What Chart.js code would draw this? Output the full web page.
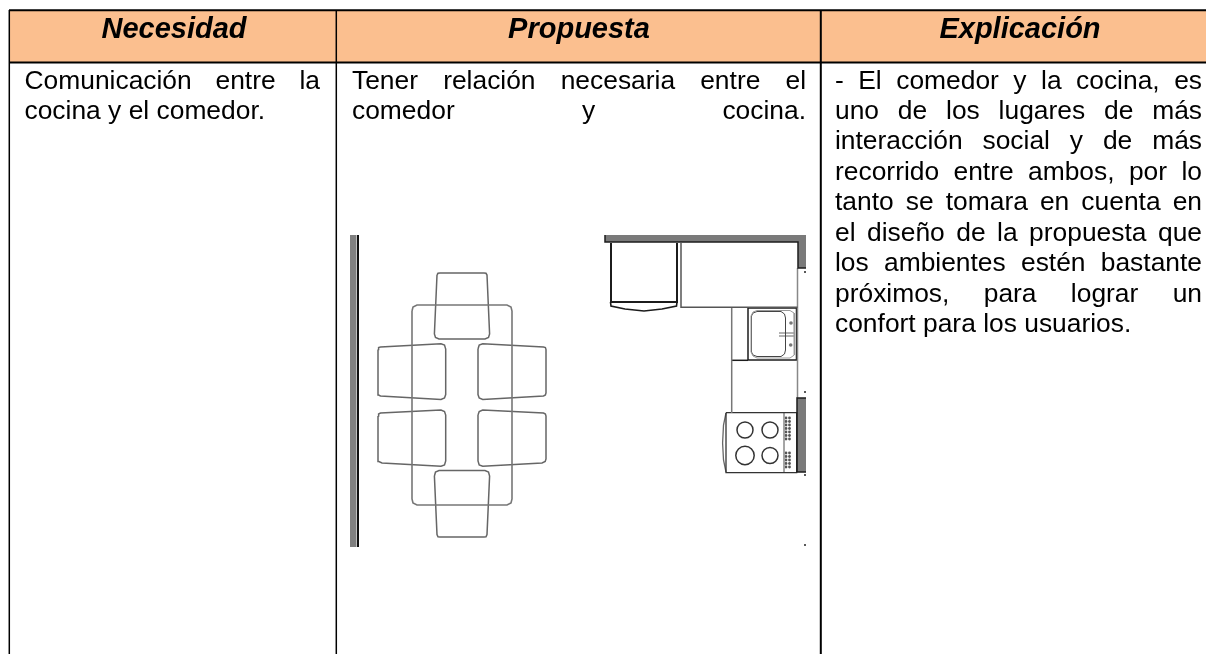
<!DOCTYPE html>
<html>
<head>
<meta charset="utf-8">
<title>Necesidad, propuesta, explicación</title>
<script src="https://cdn.jsdelivr.net/npm/chart.js@4"></script>
<style>
html, body { margin: 0; padding: 0; background: #fff; }
canvas { display: block; }
</style>
</head>
<body>
<canvas id="plan" width="1206" height="654"></canvas>
<script>
// Text of the table
const headers = ['Necesidad', 'Propuesta', 'Explicación'];
const necesidadLines = ['Comunicación entre la', 'cocina y el comedor.'];
const propuestaLines = ['Tener relación necesaria entre el', 'comedor y cocina.'];
const explicacionLines = [
    '- El comedor y la cocina, es',
    'uno de los lugares de más',
    'interacción social y de más',
    'recorrido entre ambos, por lo',
    'tanto se tomara en cuenta en',
    'el diseño de la propuesta que',
    'los ambientes estén bastante',
    'próximos, para lograr un',
    'confort para los usuarios.'
];

// Table rules, [x, y] in page units
const headerBand = [[9, 10], [1206, 10], [1206, 62], [9, 62]];
const ruleTop = [[9, 10.3], [1206, 10.3]];
const ruleHeader = [[9, 62.5], [1206, 62.5]];
const ruleLeft = [[9.3, 10], [9.3, 654]];
const ruleMiddle = [[336.3, 10], [336.3, 654]];
const ruleRight = [[820.8, 10], [820.8, 654]];

// Dining set
const wallGrey = [[350, 235], [356.5, 235], [356.5, 547], [350, 547]];
const wallEdge = [[358, 235], [358, 547]];
const diningTable = [[412, 311], [413, 307], [417, 305], [507, 305], [511, 307], [512, 311], [512, 499], [511, 503], [507, 505], [417, 505], [413, 503], [412, 499], [412, 311]];
const chairTop = [[437, 275], [438, 273.3], [440, 273], [484, 273], [486, 273.3], [487, 275], [489.6, 334], [488.5, 337.5], [485, 339], [439, 339], [435.5, 337.5], [434.4, 334], [437, 275]];
const chairBottom = [[434.4, 476], [435.5, 472], [439, 470.5], [485, 470.5], [488.5, 472], [489.6, 476], [487, 534.5], [486, 536.7], [484, 537], [440, 537], [438, 536.7], [437, 534.5], [434.4, 476]];
const chairUpperLeft = [[378, 349.5], [378.6, 347.5], [380.5, 347], [441, 343.7], [444.5, 345], [445.7, 349], [445.7, 394.5], [444.5, 398], [441, 399.4], [380.5, 396], [378.6, 395], [378, 393], [378, 349.5]];
const chairUpperRight = [[478, 349], [479.2, 345], [482.7, 343.7], [543.5, 347], [545.4, 347.5], [546, 349.5], [546, 393], [545.4, 395], [543.5, 396], [482.7, 399.4], [479.2, 398], [478, 394.5], [478, 349]];
const chairLowerLeft = [[378, 416], [378.6, 414], [380.5, 413], [441, 410], [444.5, 411.5], [445.7, 415], [445.7, 461], [444.5, 465], [441, 466.3], [382, 463], [378.8, 461.5], [378, 459], [378, 416]];
const chairLowerRight = [[478, 415], [479.2, 411.5], [482.7, 410], [543.5, 413], [545.4, 414], [546, 416], [546, 459], [545.2, 461.5], [542, 463], [482.7, 466.3], [479.2, 465], [478, 461], [478, 415]];

// Kitchen
const kitchenWall = [[605, 235], [806, 235], [806, 268], [798, 268], [798, 242], [605, 242]];
const kitchenWallEdge = [[605, 235], [605, 242], [798, 242], [798, 268], [806, 268]];
const stoveWall = [[797, 398], [806, 398], [806, 472], [797, 472]];
const stoveWallEdge = [[806, 398], [797, 398], [797, 472], [806, 472]];
const wallTips = [[805, 272], [805, 392], [805, 475], [805, 545]];
const fridge = [[611, 243], [611, 302], [677, 302], [677, 243]];
const fridgeDoor = [[610.5, 302], [611, 306], [625, 309], [644, 311], [662, 309], [676.5, 306], [677, 302]];
const counterTop = [[681, 243], [681, 307.3], [797.5, 307.3]];
const counterRight = [[797.5, 268], [797.5, 398]];
const counterLeft = [[731.7, 307], [731.7, 413]];
const counterShelf = [[732, 360.3], [748, 360.3]];
const sinkOuter = [[748, 308], [796.5, 308], [796.5, 360], [748, 360], [748, 308]];
const sinkRim = [[751, 316], [753, 312], [757, 310.5], [790, 310.5], [794, 313], [794.5, 316], [794.5, 352], [794, 355], [790, 358], [757, 358], [753, 356], [751, 352], [751, 316]];
const sinkBowl = [[751.5, 316], [753, 313], [757, 311.5], [781, 311.5], [784.5, 314], [785.5, 318], [785.5, 350], [784.5, 354], [781, 356.5], [757, 356.5], [753, 355], [751.5, 352], [751.5, 316]];
const faucetTop = [[779, 333], [794, 333]];
const faucetBottom = [[779, 336], [794, 336]];
const sinkDots = [[791, 323], [790.7, 345]];
const stove = [[726, 412.7], [796.7, 412.7], [796.7, 472.7], [726, 472.7], [726, 412.7]];
const stoveFront = [[726, 413], [723.5, 425], [722.6, 443], [723.5, 460], [726, 472]];
const stovePanel = [[784, 413], [784, 472]];
const burnerA = [[745, 430]];
const burnerB = [[770, 430]];
const burnerC = [[745, 455.5]];
const burnerD = [[770, 455.5]];
const knobsLeft = [[786, 418], [786, 421.5], [786, 425], [786, 428.5], [786, 432], [786, 435.5], [786, 439], [786, 453], [786, 456.5], [786, 460], [786, 463.5], [786, 467]];
const knobsRight = [[789.5, 418], [789.5, 421.5], [789.5, 425], [789.5, 428.5], [789.5, 432], [789.5, 435.5], [789.5, 439], [789.5, 453], [789.5, 456.5], [789.5, 460], [789.5, 463.5], [789.5, 467]];

const toXY = pts => pts.map(p => ({ x: p[0], y: p[1] }));

function stroke(pts, color, width) {
    return { data: toXY(pts), showLine: true, borderColor: color, borderWidth: width, pointRadius: 0, fill: false, tension: 0, order: 1 };
}

function filled(pts, color, order) {
    return { data: toXY(pts), showLine: true, borderWidth: 0, borderColor: color, backgroundColor: color, pointRadius: 0, fill: 'shape', tension: 0, order: order };
}

function dots(pts, color, radius, hollow) {
    return {
        data: toXY(pts), showLine: false, pointStyle: 'circle', pointRadius: radius,
        pointBorderColor: color, pointBorderWidth: hollow ? 1.5 : 0,
        pointBackgroundColor: hollow ? 'rgba(0,0,0,0)' : color, order: 1
    };
}

const black = '#000000';
const planLine = '#666666';
const kitchenLine = '#1c1c1c';
const softLine = '#777777';

const datasets = [
    filled(headerBand, '#FBBF8F', 3),
    filled(wallGrey, '#808080', 2),
    filled(kitchenWall, '#7a7a7a', 2),
    filled(stoveWall, '#7a7a7a', 2),
    stroke(ruleTop, black, 2),
    stroke(ruleHeader, black, 2),
    stroke(ruleLeft, black, 1.5),
    stroke(ruleMiddle, black, 1.5),
    stroke(ruleRight, black, 2),
    stroke(wallEdge, '#111111', 2),
    stroke(diningTable, softLine, 1.6),
    stroke(chairTop, planLine, 1.5),
    stroke(chairBottom, planLine, 1.5),
    stroke(chairUpperLeft, planLine, 1.5),
    stroke(chairUpperRight, planLine, 1.5),
    stroke(chairLowerLeft, planLine, 1.5),
    stroke(chairLowerRight, planLine, 1.5),
    stroke(kitchenWallEdge, kitchenLine, 1.5),
    stroke(stoveWallEdge, kitchenLine, 1.5),
    stroke(fridge, kitchenLine, 2),
    stroke(fridgeDoor, kitchenLine, 1.6),
    stroke(counterTop, '#555555', 1.5),
    stroke(counterRight, '#888888', 1.5),
    stroke(counterLeft, '#777777', 1.5),
    stroke(counterShelf, kitchenLine, 1.5),
    stroke(sinkOuter, kitchenLine, 1.5),
    stroke(sinkRim, '#999999', 1),
    stroke(sinkBowl, '#444444', 1),
    stroke(faucetTop, '#666666', 1),
    stroke(faucetBottom, '#666666', 1),
    stroke(stove, '#333333', 1.3),
    stroke(stoveFront, '#666666', 1.3),
    stroke(stovePanel, '#999999', 1),
    dots(sinkDots, '#777777', 1.8, false),
    dots(burnerA, '#333333', 8, true),
    dots(burnerB, '#333333', 8, true),
    dots(burnerC, '#333333', 9.2, true),
    dots(burnerD, '#333333', 8, true),
    dots(knobsLeft, '#555555', 1.4, false),
    dots(knobsRight, '#555555', 1.4, false),
    dots(wallTips, '#222222', 1, false)
];

// Words are spread to the full cell width, except the last line of a cell
function drawCell(ctx, scales, lines, left, right, firstBaseline, lineStep, lastIsJustified) {
    const x0 = scales.x.getPixelForValue(left);
    const x1 = scales.x.getPixelForValue(right);
    lines.forEach((line, i) => {
        const y = scales.y.getPixelForValue(firstBaseline + i * lineStep);
        const words = line.split(' ');
        const isLast = i === lines.length - 1;
        if (isLast && !lastIsJustified) {
            ctx.fillText(line, x0, y);
            return;
        }
        const used = words.reduce((sum, w) => sum + ctx.measureText(w).width, 0);
        const gap = (x1 - x0 - used) / (words.length - 1);
        let x = x0;
        words.forEach(w => {
            ctx.fillText(w, x, y);
            x += ctx.measureText(w).width + gap;
        });
    });
}

const tableText = {
    id: 'tableText',
    afterDraw(chart) {
        const ctx = chart.ctx;
        const s = chart.scales;
        ctx.save();
        ctx.fillStyle = '#000';
        ctx.textBaseline = 'alphabetic';
        ctx.textAlign = 'center';
        ctx.font = 'italic bold 29px "Liberation Sans"';
        [174, 579, 1020].forEach((cx, i) => {
            ctx.fillText(headers[i], s.x.getPixelForValue(cx), s.y.getPixelForValue(38));
        });
        ctx.textAlign = 'left';
        ctx.font = '26.4px "Liberation Sans"';
        drawCell(ctx, s, necesidadLines, 24.5, 320, 88.5, 30.3, false);
        drawCell(ctx, s, propuestaLines, 352, 806, 88.5, 30.3, true);
        drawCell(ctx, s, explicacionLines, 835, 1202, 88.5, 30.45, false);
        ctx.restore();
    }
};

new Chart(document.getElementById('plan').getContext('2d'), {
    type: 'scatter',
    data: { datasets: datasets },
    options: {
        responsive: false,
        animation: false,
        layout: { padding: 0, autoPadding: false },
        scales: {
            x: { type: 'linear', min: 0, max: 1206, display: false },
            y: { type: 'linear', min: 0, max: 654, reverse: true, display: false }
        },
        plugins: { legend: { display: false }, tooltip: { enabled: false }, title: { display: false } }
    },
    plugins: [tableText]
});
</script>
</body>
</html>
